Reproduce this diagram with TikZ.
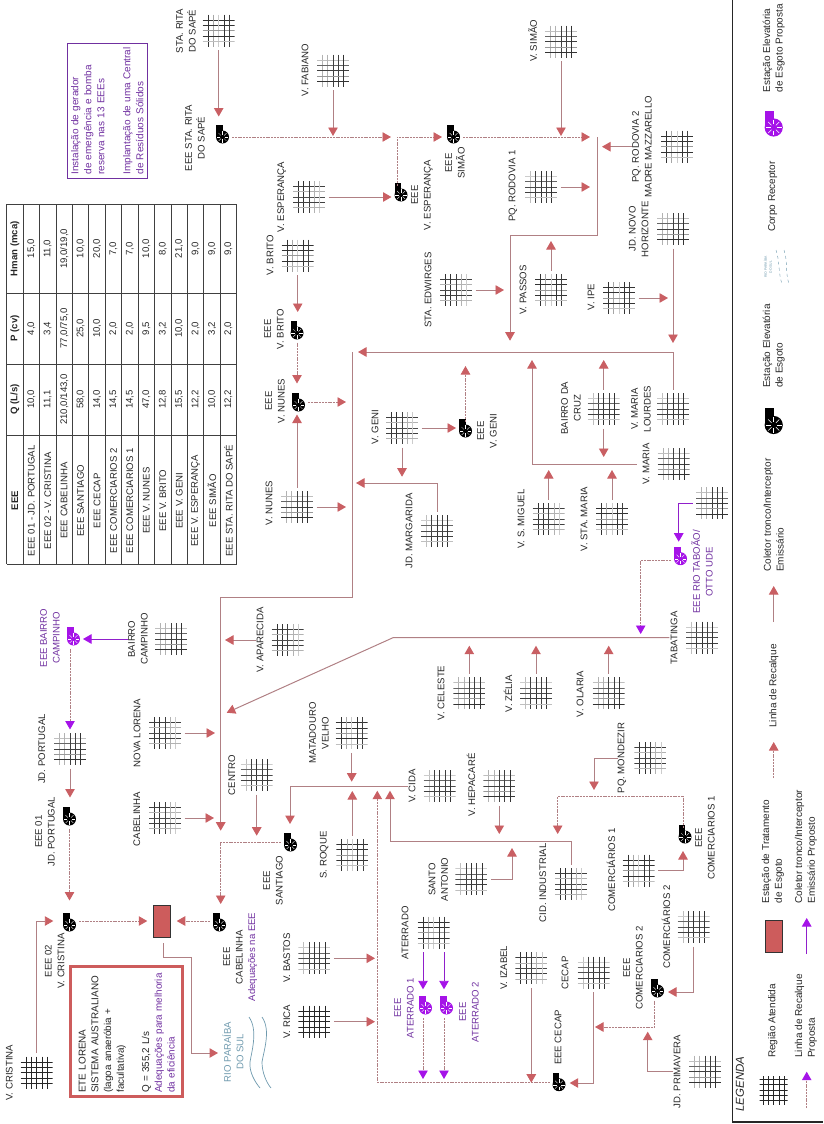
\documentclass[tikz,border=0pt]{standalone}
\usepackage{fontspec}
\setmainfont{Liberation Sans}
\usetikzlibrary{arrows.meta}
\definecolor{linha}{HTML}{B08084}
\definecolor{seta}{HTML}{C95F63}
\definecolor{roxo}{HTML}{7030A0}
\definecolor{roxobomba}{HTML}{A513E8}
\definecolor{rio}{HTML}{6F9AAE}
\definecolor{vermelho}{HTML}{CD5C5C}
\definecolor{texto}{HTML}{262626}
\def\gradeA{-10.6/80/75,-5.3/80/30,0/75/70,5.3/30/75,10.6/20/30}
\def\gradeB{-10.6/25/20,-5.3/75/60,0/80/70,5.3/75/75,10.6/80/25}
\def\gradeC{-10.6/80/80,-5.3/35/80,0/20/40,5.3/80/80,10.6/75/25}
\def\gradeD{-10.6/30/25,-5.3/30/60,0/75/75,5.3/75/40,10.6/80/80}
\def\gradeE{-10.6/85/85,-5.3/85/85,0/85/85,5.3/85/85,10.6/85/85}
\tikzset{
  rot/.style={rotate=90,inner sep=0pt,align=center,text=texto,font=\fontsize{9.6}{12.7}\selectfont},
  rotleg/.style={rot,font=\fontsize{10}{12.7}\selectfont},
  rotesq/.style={rotleg,align=left},
  rotroxo/.style={rot,text=roxo},
  regiao/.style={minimum size=32pt,inner sep=0pt,outer sep=3.5pt,path picture={
    \foreach \k/\v/\h in #1 {
      \draw[black!\v,line width=.7pt] (path picture bounding box.center) ++(\k,-16) -- ++(0,32);
      \draw[black!\h,line width=.7pt] (path picture bounding box.center) ++(-16,\k) -- ++(32,0);
    }}},
  bomba/.style 2 args={circle,minimum size=13pt*#2,inner sep=0pt,outer sep=3pt,fill=#1,path picture={
    \foreach \a in {0,45,...,315}
      \draw[white,line width=.35pt*#2] (path picture bounding box.center) ++(\a:2.2*#2) -- ++(\a:3.4*#2);
    },append after command={\pgfextra{\fill[#1] (\tikzlastnode.center) ++(-6.5*#2,-12*#2) rectangle ++(6.5*#2,12*#2);}}},
  eee/.style={bomba={black}{1}},
  eeeprop/.style={bomba={roxobomba}{1}},
  coletor/.style={draw=linha,line width=.9pt,-{Triangle[length=8.5pt,width=9.5pt,color=seta]}},
  tronco/.style={coletor,line width=1pt},
  recalque/.style={draw=linha,line width=.8pt,dash pattern=on 2pt off .8pt,-{Triangle[length=8.5pt,width=9.5pt,color=seta]}},
  proposto/.style={draw=roxobomba!60!roxo,line width=.9pt,-{Triangle[length=8.5pt,width=9.5pt,color=roxobomba]}},
  recprop/.style={draw=linha,line width=.8pt,dash pattern=on 2pt off .8pt,-{Triangle[length=8.5pt,width=9.5pt,color=roxobomba]}},
  etebox/.style={draw=black!80,line width=.9pt,fill=vermelho,minimum width=17.5pt,minimum height=32pt,inner sep=0pt,outer sep=6pt}
}
\begin{document}
\begin{tikzpicture}[x=1pt,y=-1pt]
\path[use as bounding box] (0,0) rectangle (823,1124);
\node[rotate=90,draw=roxo,line width=.9pt,minimum width=135pt,minimum height=80.7pt,text width=128pt,align=left,inner sep=0pt,text=roxo,font=\fontsize{10}{13}\selectfont] (caixaroxa) at (107.3,110.5) {Instalação de gerador\\de emergência e bomba\\reserva nas 13 EEEs\\[13pt]Implantação de uma Central\\de Resíduos Sólidos};
\foreach \i in {0,...,14} \draw[black!75,line width=.8pt] ({6.7+16.43*\i},204.3) -- ({6.7+16.43*\i},564.3);
\foreach \c in {204.3,293,364,435,564.3} \draw[black!75,line width=.8pt] (6.7,\c) -- (236.7,\c);
\node[rot,font=\fontsize{9.6}{12.7}\selectfont\bfseries] (heee) at (14.9,500.7) {EEE};
\node[rot,font=\fontsize{9.6}{12.7}\selectfont\bfseries] (hq) at (14.9,399.5) {Q (L/s)};
\node[rot,font=\fontsize{9.6}{12.7}\selectfont\bfseries] (hp) at (14.9,328.5) {P (cv)};
\node[rot,font=\fontsize{9.6}{12.7}\selectfont\bfseries] (hh) at (14.9,248.7) {Hman (mca)};
\foreach \n/\q/\p/\h [count=\i] in {
  EEE 01 - JD. PORTUGAL/{10,0}/{4,0}/{15,0},
  EEE 02 - V. CRISTINA/{11,1}/{3,4}/{11,0},
  EEE CABELINHA/{210,0/143,0}/{77,0/75,0}/{19,0/19,0},
  EEE SANTIAGO/{58,0}/{25,0}/{10,0},
  EEE CECAP/{14,0}/{10,0}/{20,0},
  EEE COMERCIARIOS 2/{14,5}/{2,0}/{7,0},
  EEE COMERCIARIOS 1/{14,5}/{2,0}/{7,0},
  EEE V. NUNES/{47,0}/{9,5}/{10,0},
  EEE V. BRITO/{12,8}/{3,2}/{8,0},
  EEE V. GENI/{15,5}/{10,0}/{21,0},
  EEE V. ESPERANÇA/{12,2}/{2,0}/{9,0},
  EEE SIMÃO/{10,0}/{3,2}/{9,0},
  EEE STA. RITA DO SAPÉ/{12,2}/{2,0}/{9,0}} {
  \node[rot] (teee\i) at ({14.9+16.43*\i},500.7) {\n};
  \node[rot] (tq\i) at ({14.9+16.43*\i},399.5) {\q};
  \node[rot] (tp\i) at ({14.9+16.43*\i},328.5) {\p};
  \node[rot] (th\i) at ({14.9+16.43*\i},248.7) {\h};
}
\node[regiao=\gradeC] (starita) at (218.7,30.7) {};
\node[rot] (tstarita) at (186,31) {STA. RITA\\DO SAPÉ};
\node[eee] (eeestarita) at (222.5,137) {};
\node[rot] (teeestarita) at (195,138) {EEE STA. RITA\\DO SAPÉ};
\node[regiao=\gradeD] (vfabiano) at (333,70.7) {};
\node[rot] (tvfabiano) at (305,70) {V. FABIANO};
\node[regiao=\gradeA] (vesperanca) at (309,197) {};
\node[rot] (tvesperanca) at (281.7,197) {V. ESPERANÇA};
\node[eee] (eeeesperanca) at (401,195) {};
\node[rot] (teeeesperanca) at (422,195) {EEE\\V. ESPERANÇA};
\node[regiao=\gradeD] (vsimao) at (561,41.7) {};
\node[rot] (tvsimao) at (532.7,41) {V. SIMÃO};
\node[eee] (eeesimao) at (453.5,137) {};
\node[rot] (teeesimao) at (455,163) {EEE\\SIMÃO};
\node[regiao=\gradeB] (rodovia1) at (541,187) {};
\node[rot] (trodovia1) at (513,186) {PQ. RODOVIA 1};
\node[regiao=\gradeC] (rodovia2) at (677,146.7) {};
\node[rot] (trodovia2) at (642,146.7) {PQ. RODOVIA 2\\MADRE MAZZARELLO};
\node[regiao=\gradeD] (horizonte) at (673,229) {};
\node[rot] (thorizonte) at (638.7,229) {JD. NOVO\\HORIZONTE};
\node[regiao=\gradeC] (vipe) at (619,298) {};
\node[rot] (tvipe) at (591,297) {V. IPE};
\node[regiao=\gradeC] (vpassos) at (551,290) {};
\node[rot] (tvpassos) at (523,290) {V. PASSOS};
\node[regiao=\gradeA] (edwirges) at (456,290) {};
\node[rot] (tedwirges) at (428,290) {STA. EDWIRGES};
\node[regiao=\gradeB] (lourdes) at (673,409) {};
\node[rot] (tlourdes) at (641,409) {V. MARIA\\LOURDES};
\node[regiao=\gradeB] (bcruz) at (603.7,409) {};
\node[rot] (tbcruz) at (571,408) {BAIRRO DA\\CRUZ};
\node[regiao=\gradeD] (vmaria) at (673.7,464) {};
\node[rot] (tvmaria) at (646,464) {V. MARIA};
\node[regiao=\gradeA] (vsmiguel) at (548.7,519) {};
\node[rot] (tvsmiguel) at (521,519) {V. S. MIGUEL};
\node[regiao=\gradeC] (vstamaria) at (612,519) {};
\node[rot] (tvstamaria) at (584,519) {V. STA. MARIA};
\node[regiao=\gradeA] (vgeni) at (402,428) {};
\node[rot] (tvgeni) at (375,427) {V. GENI};
\node[eee] (eeegeni) at (465.5,431) {};
\node[rot] (teeegeni) at (487,431) {EEE\\V. GENI};
\node[regiao=\gradeB] (margarida) at (437,531) {};
\node[rot] (tmargarida) at (409,531) {JD. MARGARIDA};
\node[regiao=\gradeD] (vnunes) at (297,507) {};
\node[rot] (tvnunes) at (269,503) {V. NUNES};
\node[eee] (eeenunes) at (298.5,405) {};
\node[rot] (teeenunes) at (275,401) {EEE\\V. NUNES};
\node[regiao=\gradeC] (vbrito) at (297.7,255.7) {};
\node[rot] (tvbrito) at (270,255) {V. BRITO};
\node[eee] (eeebrito) at (297,333) {};
\node[rot] (teeebrito) at (274,329) {EEE\\V. BRITO};
\node[regiao=\gradeD] (campinho) at (171,639) {};
\node[rot] (tcampinho) at (138,639) {BAIRRO\\CAMPINHO};
\node[eeeprop] (eeecampinho) at (73.5,639) {};
\node[rotroxo] (teeecampinho) at (50,638) {EEE BAIRRO\\CAMPINHO};
\node[regiao=\gradeD] (portugal) at (70,749) {};
\node[rot] (tportugal) at (41.7,749) {JD. PORTUGAL};
\node[eee] (eee01) at (69.5,819) {};
\node[rot] (teee01) at (45,831.7) {EEE 01\\JD. PORTUGAL};
\node[eee] (eee02) at (69.5,925) {};
\node[rot] (teee02) at (54.7,961) {EEE 02\\V. CRISTINA};
\node[regiao=\gradeE] (vcristina) at (36.7,1072.7) {};
\node[rot] (tvcristina) at (9.3,1072.8) {V. CRISTINA};
\node[etebox] (ete) at (162,921) {};
\node[eee] (eeecabelinha) at (219.5,925) {};
\node[rot] (teeecabelinha) at (233,957) {EEE\\CABELINHA};
\node[rotroxo] (tadeq) at (252.7,957) {Adequações na EEE};
\node[rotate=90,draw=vermelho,line width=2.6pt,minimum width=130pt,minimum height=112pt,text width=122pt,align=left,inner sep=0pt,text=texto,font=\fontsize{9.9}{12.7}\selectfont] (caixaete) at (126.7,1031.7) {ETE LORENA\\SISTEMA AUSTRALIANO\\(lagoa anaeróbia +\\facultativa)\\[12.7pt]Q = 355,2 L/s\\\textcolor{roxo}{Adequações para melhoria}\\\textcolor{roxo}{da eficiência}};
\node[rot,text=rio] (trio) at (233,1052) {RIO PARAÍBA\\DO SUL};
\draw[rio,line width=.7pt] (249,1017) .. controls (258,1030) and (252,1050) .. (250,1062) .. controls (249,1072) and (255,1082) .. (260,1088);
\draw[rio,line width=.7pt] (262,1017) .. controls (271,1030) and (264,1050) .. (262,1062) .. controls (262,1072) and (266,1082) .. (271,1088);
\node[eee] (eeesantiago) at (290.5,845) {};
\node[rot] (teeesantiago) at (273,880.5) {EEE\\SANTIAGO};
\node[regiao=\gradeB] (centro) at (256.7,775) {};
\node[rot] (tcentro) at (231.7,775) {CENTRO};
\node[regiao=\gradeA] (cabelinha) at (165,818) {};
\node[rot] (tcabelinha) at (136.7,819) {CABELINHA};
\node[regiao=\gradeA] (novalorena) at (165,733) {};
\node[rot] (tnovalorena) at (137,733) {NOVA LORENA};
\node[regiao=\gradeA] (aparecida) at (287.7,640) {};
\node[rot] (taparecida) at (260,640) {V. APARECIDA};
\node[regiao=\gradeB] (tabatinga) at (702,637.7) {};
\node[rot] (ttabatinga) at (674,637.7) {TABATINGA};
\node[regiao=\gradeD] (taboao) at (712,503.3) {};
\node[eeeprop] (eeetaboao) at (680.5,558.7) {};
\node[rotroxo] (teeetaboao) at (702,572) {EEE RIO TABOÃO/\\OTTO UDE};
\node[regiao=\gradeD] (vceleste) at (469.3,693.3) {};
\node[rot] (tvceleste) at (441,693) {V. CELESTE};
\node[regiao=\gradeB] (vzelia) at (536,693.3) {};
\node[rot] (tvzelia) at (508,693.7) {V. ZÉLIA};
\node[regiao=\gradeD] (volaria) at (608.7,693.3) {};
\node[rot] (tvolaria) at (580,694) {V. OLARIA};
\node[regiao=\gradeA] (mondezir) at (650.3,758) {};
\node[rot] (tmondezir) at (622,758) {PQ. MONDEZIR};
\node[eee] (eeecom1) at (685,837) {};
\node[rot] (teeecom1) at (705,838) {EEE\\COMERCIARIOS 1};
\node[regiao=\gradeC] (com1) at (638.7,870.7) {};
\node[rot] (tcom1) at (611,870) {COMERCIÁRIOS 1};
\node[regiao=\gradeB] (com2) at (693.7,927) {};
\node[rot] (tcom2) at (666,927) {COMERCIÁRIOS 2};
\node[eee] (eeecom2) at (657.5,991) {};
\node[rot] (teeecom2) at (633,968) {EEE\\COMERCIARIOS 2};
\node[regiao=\gradeD] (primavera) at (705,1071.7) {};
\node[rot] (tprimavera) at (677,1071.7) {JD. PRIMAVERA};
\node[regiao=\gradeB] (cecap) at (593.7,972.7) {};
\node[rot] (tcecap) at (565,973) {CECAP};
\node[eee] (eeececap) at (559,1084.7) {};
\node[rot] (teeececap) at (558,1037.5) {EEE CECAP};
\node[regiao=\gradeA] (vizabel) at (531.3,968.3) {};
\node[rot] (tvizabel) at (503.7,967.7) {V. IZABEL};
\node[regiao=\gradeC] (aterrado) at (433.7,932.7) {};
\node[rot] (taterrado) at (405,932.7) {ATERRADO};
\node[eeeprop] (eeeaterrado1) at (425.5,1008) {};
\node[rotroxo] (teeeaterrado1) at (404,1008) {EEE\\ATERRADO 1};
\node[eeeprop] (eeeaterrado2) at (446.5,1008) {};
\node[rotroxo] (teeeaterrado2) at (469,1012) {EEE\\ATERRADO 2};
\node[regiao=\gradeE] (vrica) at (314.3,1021.7) {};
\node[rot] (tvrica) at (286.7,1021.7) {V. RICA};
\node[regiao=\gradeB] (vbastos) at (314.3,958.3) {};
\node[rot] (tvbastos) at (286.7,958) {V. BASTOS};
\node[regiao=\gradeC] (sroque) at (352.3,855) {};
\node[rot] (tsroque) at (324.3,855) {S. ROQUE};
\node[regiao=\gradeC] (matadouro) at (351.7,733.3) {};
\node[rot] (tmatadouro) at (319,733) {MATADOURO\\VELHO};
\node[regiao=\gradeB] (vcida) at (439.7,786) {};
\node[rot] (tvcida) at (412,786) {V. CIDA};
\node[regiao=\gradeD] (hepacare) at (499.3,786) {};
\node[rot] (thepacare) at (471,785) {V. HEPACARÉ};
\node[regiao=\gradeA] (industrial) at (571,884) {};
\node[rot] (tindustrial) at (542.7,883) {CID. INDUSTRIAL};
\node[regiao=\gradeB] (santoantonio) at (471.3,879.3) {};
\node[rot] (tsantoantonio) at (438.3,879.5) {SANTO\\ANTONIO};
\coordinate (jEsp) at (397,137);
\coordinate (jRitaFim) at (391,137);
\coordinate (jSimaoFim) at (442,137);
\coordinate (jSimaoSai) at (590,137);
\coordinate (jFabiano) at (333,136);
\coordinate (jVSimao) at (561,136);
\coordinate (jTrA) at (597,137);
\coordinate (jTrB) at (597,235);
\coordinate (jTrC) at (510,235);
\coordinate (jTrD) at (510,340.7);
\coordinate (jRod1) at (590,187);
\coordinate (jRod2) at (602,146.7);
\coordinate (jHor) at (673,343);
\coordinate (jIpe) at (668,298);
\coordinate (jPassos) at (551,241);
\coordinate (jEdw) at (504,290);
\coordinate (jLouA) at (673,352);
\coordinate (jLouB) at (358,352);
\coordinate (jCruzA) at (603.7,360);
\coordinate (jCruzB) at (603.7,457);
\coordinate (jMarA) at (532,464);
\coordinate (jMarB) at (532,360);
\coordinate (jMig) at (548.7,470);
\coordinate (jSta) at (612,470);
\coordinate (jGeniS) at (465.5,366);
\coordinate (jGeniB) at (402,476.7);
\coordinate (jMarga) at (437,483);
\coordinate (jMargb) at (356,483);
\coordinate (jNunesD) at (346,507);
\coordinate (jNunesE) at (346,402);
\coordinate (jTrE) at (352,352);
\coordinate (jTrF) at (352,597);
\coordinate (jTrG) at (220.7,597);
\coordinate (jTrH) at (220.7,830.7);
\coordinate (jApar) at (225,640);
\coordinate (jNova) at (215,733);
\coordinate (jCab) at (214,818);
\coordinate (jCentro) at (256.7,835.7);
\coordinate (jTabA) at (393,637.7);
\coordinate (jTabB) at (226.7,712.7);
\coordinate (jTaboA) at (678.7,503.3);
\coordinate (jTaboB) at (678.7,541.7);
\coordinate (jTaboC) at (640.7,560);
\coordinate (jTaboD) at (640.7,634);
\coordinate (jCel) at (469.3,645.7);
\coordinate (jZel) at (536,645.7);
\coordinate (jOla) at (608.7,645.7);
\coordinate (jMonA) at (594,758);
\coordinate (jMonB) at (594,790);
\coordinate (jComA) at (683,796.7);
\coordinate (jComB) at (557.7,796.7);
\coordinate (jComC) at (557.7,834);
\coordinate (jCom1F) at (683,851);
\coordinate (jCom2F) at (668,992);
\coordinate (jCom2A) at (654.7,1027);
\coordinate (jCom2B) at (595,1027);
\coordinate (jPrima) at (647.7,1031.7);
\coordinate (jCecapA) at (593.7,1083);
\coordinate (jCecapB) at (569.7,1083);
\coordinate (jEmiA) at (377.3,1082.7);
\coordinate (jEmiB) at (377.3,790.7);
\coordinate (jIzabel) at (531.3,1082.7);
\coordinate (jRica) at (375,1021.7);
\coordinate (jBastos) at (375,958.3);
\coordinate (jRoque) at (352.3,791);
\coordinate (jMata) at (351.7,781.7);
\coordinate (jCidaA) at (290,786);
\coordinate (jCidaB) at (290,824);
\coordinate (jIndA) at (571,841.7);
\coordinate (jIndB) at (390,841.7);
\coordinate (jIndC) at (390,790.7);
\coordinate (jHepa) at (499.3,834);
\coordinate (jSanA) at (512,879.3);
\coordinate (jSanB) at (512,848);
\coordinate (jCris) at (53.3,921);
\coordinate (jSaiA) at (163,957);
\coordinate (jSaiB) at (191.7,957);
\coordinate (jSaiC) at (191.7,1053);
\coordinate (jSaiD) at (218,1053);
\coordinate (jSanC) at (220.7,842.7);
\coordinate (jSanD) at (220.7,904);
\coordinate (jAt1A) at (423,989.3);
\coordinate (jAt1B) at (423,1018);
\coordinate (jAt1C) at (423,1079);
\coordinate (jAt2A) at (444,989.3);
\coordinate (jAt2B) at (444,1018);
\coordinate (jAt2C) at (444,1079);
\draw[coletor,shorten >=11pt] (starita) -- (starita |- eeestarita.north);
\draw[recalque] (eeestarita) -- (jRitaFim);
\draw[coletor] (vfabiano) -- (jFabiano);
\draw[coletor] (vesperanca) -- (vesperanca -| eeeesperanca.west);
\draw[recalque] (jEsp |- eeeesperanca.north) -- (jEsp) -- (jSimaoFim);
\draw[coletor] (vsimao) -- (jVSimao);
\draw[recalque] (eeesimao) -- (jSimaoSai);
\draw[tronco] (jTrA) -- (jTrB) -- (jTrC) -- (jTrD);
\draw[coletor] (rodovia1) -- (jRod1);
\draw[coletor] (trodovia2) -- (jRod2);
\draw[coletor] (horizonte) -- (jHor);
\draw[coletor] (vipe) -- (jIpe);
\draw[coletor] (vpassos) -- (jPassos);
\draw[coletor] (edwirges) -- (jEdw);
\draw[tronco] (lourdes) -- (jLouA) -- (jLouB);
\draw[coletor] (bcruz) -- (jCruzA);
\draw[coletor] (bcruz) -- (jCruzB);
\draw[tronco,shorten <=6pt] (tvmaria) -- (jMarA) -- (jMarB);
\draw[coletor] (vsmiguel) -- (jMig);
\draw[coletor] (vstamaria) -- (jSta);
\draw[coletor] (vgeni) -- (vgeni -| eeegeni.west);
\draw[recalque] (eeegeni) -- (jGeniS);
\draw[coletor] (vgeni) -- (jGeniB);
\draw[tronco] (margarida) -- (jMarga) -- (jMargb);
\draw[coletor] (vnunes) -- (vnunes |- eeenunes.south);
\draw[coletor] (vnunes) -- (jNunesD);
\draw[recalque] (eeenunes.east |- jNunesE) -- (jNunesE);
\draw[coletor,shorten >=11.5pt] (vbrito) -- (vbrito |- eeebrito.north);
\draw[recalque,shorten >=12pt] (eeebrito.south -| eeebrito) -- (eeebrito |- eeenunes.north);
\draw[tronco] (jLouB -| jTrE) -- (jTrF) -- (jTrG) -- (jTrH);
\draw[coletor] (taparecida) -- (jApar);
\draw[coletor] (novalorena) -- (jNova);
\draw[coletor] (cabelinha) -- (jCab);
\draw[coletor] (centro) -- (jCentro);
\draw[tronco,shorten <=1pt] (ttabatinga) -- (jTabA) -- (jTabB);
\draw[proposto] (tcampinho) -- (eeecampinho);
\draw[recprop] (eeecampinho.south -| portugal) -- (portugal.north);
\draw[coletor,shorten >=12pt] (portugal) -- (portugal |- eee01.north);
\draw[recalque,shorten >=15pt] (eee01) -- (eee02);
\draw[coletor] (vcristina) |- (jCris);
\draw[recalque] (eee02.east |- jCris) -- (jCris -| ete.west);
\draw[recalque] (eeecabelinha.west |- jCris) -- (jCris -| ete.east);
\draw[tronco] (ete.south -| jSaiA) -- (jSaiA) -- (jSaiB) -- (jSaiC) -- (jSaiD);
\draw[recalque] (eeesantiago.west |- jSanC) -- (jSanC) -- (jSanD);
\draw[proposto] (taboao) -- (jTaboA) -- (jTaboB);
\draw[recprop] (eeetaboao.west |- jTaboC) -- (jTaboC) -- (jTaboD);
\draw[coletor] (vceleste) -- (jCel);
\draw[coletor] (vzelia) -- (jZel);
\draw[coletor] (volaria) -- (jOla);
\draw[coletor] (tmondezir) -- (jMonA) -- (jMonB);
\draw[recalque] (jComA |- eeecom1.north) -- (jComA) -- (jComB) -- (jComC);
\draw[coletor] (com1) -| (jCom1F);
\draw[tronco] (com2) |- (jCom2F);
\draw[recalque] (eeecom2.south -| jCom2A) -- (jCom2A) -- (jCom2B);
\draw[tronco] (tprimavera) -| (jPrima);
\draw[coletor] (cecap) -- (jCecapA) -- (jCecapB);
\draw[recalque] (eeececap.west |- jEmiA) -- (jEmiA) -- (jEmiB);
\draw[coletor] (vizabel) -- (jIzabel);
\draw[proposto] (aterrado.south -| jAt1A) -- (jAt1A);
\draw[proposto] (aterrado.south -| jAt2A) -- (jAt2A);
\draw[recprop] (jAt1B) -- (jAt1C);
\draw[recprop] (jAt2B) -- (jAt2C);
\draw[coletor] (vrica) -- (jRica);
\draw[coletor] (vbastos) -- (jBastos);
\draw[coletor] (sroque) -- (jRoque);
\draw[coletor] (matadouro) -- (jMata);
\draw[tronco] (tvcida) -- (jCidaA) -- (jCidaB);
\draw[coletor] (hepacare) -- (jHepa);
\draw[tronco] (industrial) -- (jIndA) -- (jIndB) -- (jIndC);
\draw[tronco] (santoantonio) -- (jSanA) -- (jSanB);
\draw[black!85,line width=1.3pt] (732.3,0) -- (732.3,1122) -- (823,1122);
\node[rot,font=\fontsize{11.5}{13}\selectfont\itshape] (legenda) at (740,1084) {LEGENDA};
\node[regiao=\gradeE,minimum size=28pt] (lgregiao) at (773.7,1090) {};
\node[rotleg] (tlgregiao) at (772.7,1021) {Região Atendida};
\node[etebox] (lgete) at (773.7,936) {};
\node[rotesq] (tlgete) at (773,851.7) {Estação de Tratamento\\de Esgoto};
\node[rotesq] (tlgprop) at (806,1016) {Linha de Recalque\\Proposta};
\coordinate (lgA) at (806.7,1108);
\coordinate (lgB) at (806.7,1071.7);
\draw[recprop] (lgA) -- (lgB);
\coordinate (lgC) at (806.7,954);
\coordinate (lgD) at (806.7,918);
\draw[proposto] (lgC) -- (lgD);
\node[rotesq] (tlgcolprop) at (806,846.7) {Coletor tronco/Interceptor\\Emissário Proposto};
\coordinate (lgE) at (773.7,778);
\coordinate (lgF) at (773.7,742);
\draw[recalque] (lgE) -- (lgF);
\node[rotleg] (tlgrec) at (773.7,686) {Linha de Recalque};
\coordinate (lgG) at (773.7,622);
\coordinate (lgH) at (773.7,586);
\draw[coletor] (lgG) -- (lgH);
\node[rotesq] (tlgcol) at (773.7,515) {Coletor tronco/Interceptor\\Emissário};
\node[bomba={black}{1.4}] (lgeee) at (773.7,425) {};
\node[rotesq] (tlgeee) at (773.7,346) {Estação Elevatória\\de Esgoto};
\node[rot,text=rio,font=\fontsize{3.4}{5}\selectfont] (lgrio) at (768,267) {RIO PARAÍBA\\DO SUL};
\draw[rio,line width=.4pt,dashed] (776,250) .. controls (780,262) and (778,272) .. (782,284);
\draw[rio,line width=.4pt,dashed] (784,250) .. controls (788,262) and (785,272) .. (789,284);
\node[rotleg] (tlgrec2) at (772.7,196.7) {Corpo Receptor};
\node[bomba={roxobomba}{1.4}] (lgprop) at (773.7,127.5) {};
\node[rotesq] (tlgprop2) at (773.7,48.3) {Estação Elevatória\\de Esgoto Proposta};
\end{tikzpicture}
\end{document}
